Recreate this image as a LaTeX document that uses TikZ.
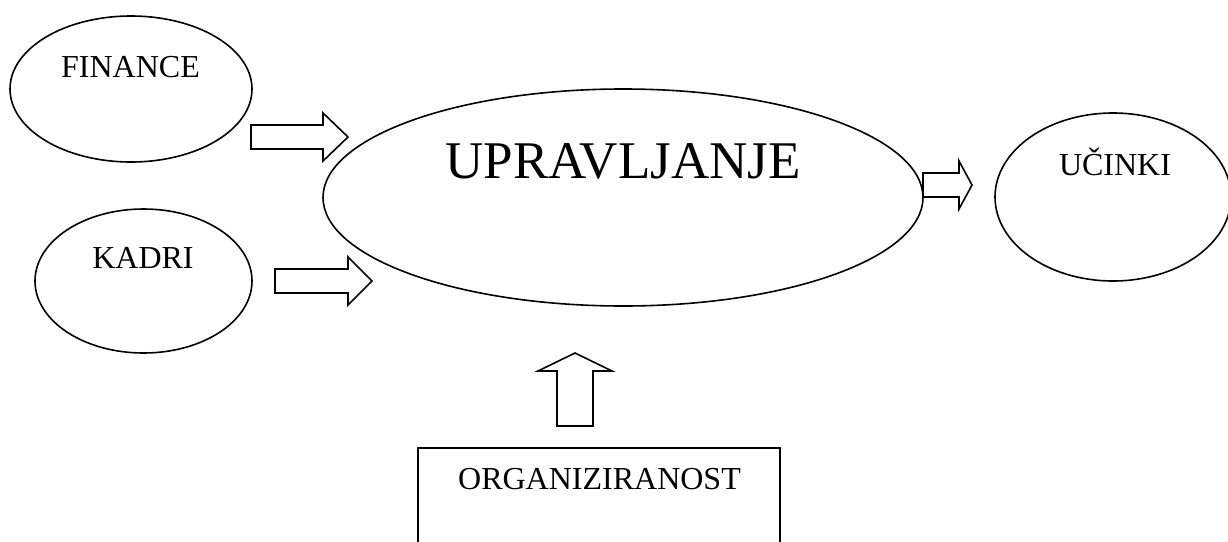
\documentclass[tikz,border=0pt]{standalone}
\usepackage{fontspec}
\setmainfont{Liberation Serif}
\usetikzlibrary{shapes.geometric}
\tikzset{
	block arrow/.pic={
		\tikzset{/blockarrow/.cd,#1}
		\draw[pic actions]
		(0,-\arrhalf) -- (\arrshaft,-\arrhalf) -- (\arrshaft,-\arrheadhalf) -- (\arrshaft+\arrhead,0) -- (\arrshaft,\arrheadhalf) -- (\arrshaft,\arrhalf) -- (0,\arrhalf) -- cycle;
	},
	/blockarrow/.search also={/tikz},
	/blockarrow/.cd,
	shaft/.store in=\arrshaft,
	head/.store in=\arrhead,
	half/.store in=\arrhalf,
	headhalf/.store in=\arrheadhalf,
	shaft=72,
	head=25,
	half=12,
	headhalf=24,
}
\tikzset{
	oval/.style={draw, ellipse, inner sep=0pt},
	frame/.style={draw, rectangle, inner sep=0pt},
	lbl/.style={font=\fontsize{32}{38}\selectfont, anchor=base, inner sep=0pt},
	biglbl/.style={font=\fontsize{53}{62}\selectfont, anchor=base, inner sep=0pt},
}

\begin{document}
\begin{tikzpicture}[x=1pt, y=-1pt, line width=1.6pt, line join=miter]
		\useasboundingbox (0,0) rectangle (1228,541);
		\node[oval, minimum width=242pt, minimum height=146pt] (finance) at (131,89) {};
		\node[oval, minimum width=217pt, minimum height=144pt] (kadri) at (143.5,281) {};
		\node[oval, minimum width=600pt, minimum height=217pt] (upravljanje) at (623,197.5) {};
		\node[oval, minimum width=236pt, minimum height=168pt] (ucinki) at (1113,197) {};
		\node[frame, minimum width=362pt, minimum height=152pt] (organiziranost) at (599,524) {};
		% texts sit in the upper half of each shape
		\node[lbl] (finance-txt) at (130.5,77) {FINANCE};
		\node[lbl] (kadri-txt) at (143,268) {KADRI};
		\node[biglbl] (upravljanje-txt) at (623,178) {UPRAVLJANJE};
		\node[lbl] (ucinki-txt) at (1115,175) {UČINKI};
		\node[lbl] (organiziranost-txt) at (599.5,489) {ORGANIZIRANOST};
		% block arrows
		\pic at (251,137) {block arrow={shaft=72, head=25}};
		\pic at (275,281) {block arrow={shaft=73, head=24}};
		\pic at (923,185) {block arrow={shaft=36, head=13}};
		\pic[rotate=90] at (575,426) {block arrow={shaft=55, head=18, half=18, headhalf=37}};
	\end{tikzpicture}
\end{document}
